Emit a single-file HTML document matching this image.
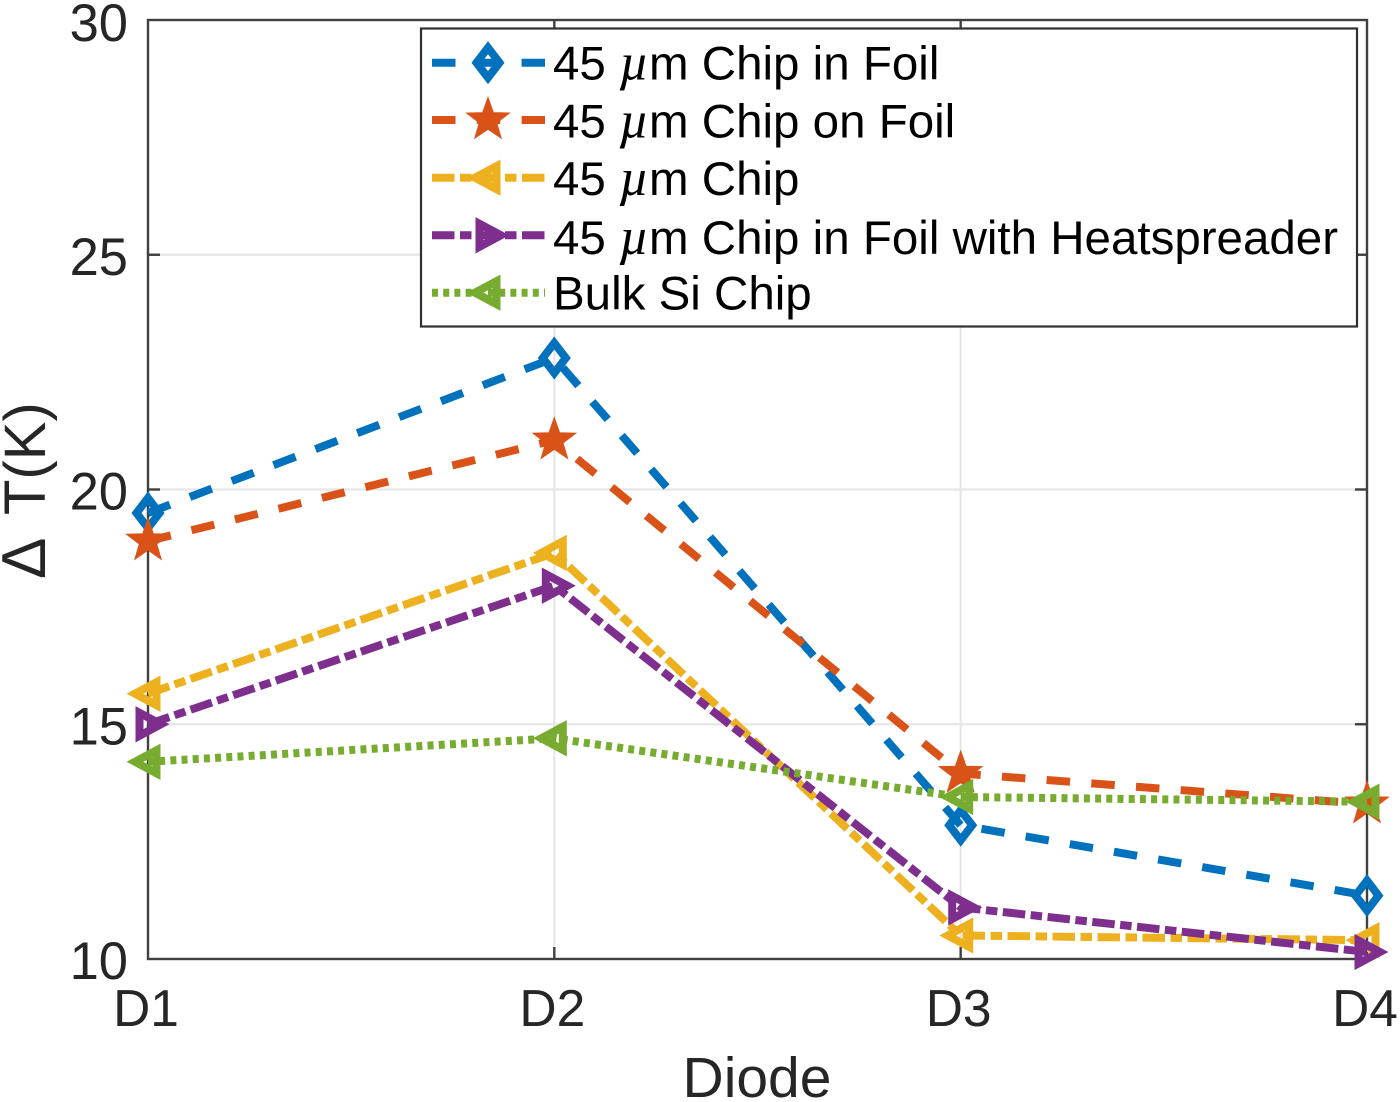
<!DOCTYPE html>
<html>
<head>
<meta charset="utf-8">
<style>
html,body{margin:0;padding:0;background:#fff;width:1400px;height:1102px;overflow:hidden}
svg{display:block}
text{font-family:"Liberation Sans",Arial,sans-serif}
</style>
</head>
<body>
<svg id="chart" xmlns="http://www.w3.org/2000/svg" width="1400" height="1102" viewBox="0 0 1400 1102">
<g id="grid"></g>
<g id="axes"></g>
<g id="series"></g>
<g id="legend"></g>
</svg>
<script>
const categories = ['D1', 'D2', 'D3', 'D4'];
const yTicks = [10, 15, 20, 25, 30];
const seriesNames = ['45 µm Chip in Foil', '45 µm Chip on Foil', '45 µm Chip', '45 µm Chip in Foil with Heatspreader', 'Bulk Si Chip'];
const chipInFoil = [19.5, 22.8, 12.85, 11.35];
const chipOnFoil = [18.9, 21.05, 13.95, 13.3];
const chipOnly = [15.65, 18.65, 10.5, 10.4];
const chipHeatspreader = [15.0, 17.95, 11.1, 10.15];
const bulkSi = [14.2, 14.7, 13.45, 13.35];

const NS = 'http://www.w3.org/2000/svg';
const plot = {l: 148, r: 1367, t: 20, b: 959};
const yMin = 10, yMax = 30;
function xScale(i) { return plot.l + (plot.r - plot.l) * i / (categories.length - 1); }
function yScale(v) { return plot.b - (plot.b - plot.t) * (v - yMin) / (yMax - yMin); }
function mk(tag, parent, attrs, txt) {
  const e = document.createElementNS(NS, tag);
  for (const k in attrs) e.setAttribute(k, attrs[k]);
  if (txt !== undefined) e.textContent = txt;
  parent.appendChild(e);
  return e;
}
function markerShape(kind, cx, cy, color, parent) {
  let pts, fill = 'none';
  if (kind === 'diamond') pts = [[0,-15],[11.5,0],[0,15],[-11.5,0]];
  if (kind === 'left') pts = [[-13,0],[8.5,-11.5],[8.5,11.5]];
  if (kind === 'right') pts = [[13,0],[-8.5,-11.5],[-8.5,11.5]];
  if (kind === 'star') {
    pts = [];
    for (let i = 0; i < 10; i++) {
      const r = i % 2 ? 8.5 : 21;
      const a = -Math.PI / 2 + i * Math.PI / 5;
      pts.push([r * Math.cos(a), r * Math.sin(a)]);
    }
    fill = color;
  }
  const m = mk('polygon', parent, {
    points: pts.map(p => (cx + p[0]).toFixed(1) + ',' + (cy + p[1]).toFixed(1)).join(' '),
    fill: fill, stroke: color, 'stroke-width': kind === 'star' ? 2 : 8, 'stroke-linejoin': 'miter', 'stroke-miterlimit': 10
  });
  
  
  return m;
}

const gridG = document.getElementById('grid');
const axesG = document.getElementById('axes');
const seriesG = document.getElementById('series');
const legendG = document.getElementById('legend');

/* grid */
yTicks.slice(1, -1).forEach(v => {
  const l = mk('line', gridG, {x1: plot.l, x2: plot.r, y1: yScale(v), y2: yScale(v), stroke: '#e6e6e6', 'stroke-width': 2.2});
  
  
});
categories.slice(1, -1).forEach((c, i) => {
  const x = xScale(i + 1);
  const l = mk('line', gridG, {x1: x, x2: x, y1: plot.t, y2: plot.b, stroke: '#e6e6e6', 'stroke-width': 2.2});
  
  
});

/* axes box and ticks */
const box = mk('rect', axesG, {x: plot.l, y: plot.t, width: plot.r - plot.l, height: plot.b - plot.t, fill: 'none', stroke: '#404040', 'stroke-width': 2.4});


yTicks.forEach(v => {
  const y = yScale(v);
  if (v !== yMin && v !== yMax) {
    const a = mk('line', axesG, {x1: plot.l, x2: plot.l + 12, y1: y, y2: y, stroke: '#404040', 'stroke-width': 2.4});
    
    
    const b = mk('line', axesG, {x1: plot.r - 12, x2: plot.r, y1: y, y2: y, stroke: '#404040', 'stroke-width': 2.4});
    
    
  }
  const t = mk('text', axesG, {x: 128, y: y + 20 + (v === yMax ? 1 : 0), 'text-anchor': 'end', 'font-size': 52.5, fill: '#262626'}, String(v));
  
  
});
categories.forEach((c, i) => {
  const x = xScale(i);
  if (i > 0 && i < categories.length - 1) {
    const a = mk('line', axesG, {x1: x, x2: x, y1: plot.b - 12, y2: plot.b, stroke: '#404040', 'stroke-width': 2.4});
    
    
    const b = mk('line', axesG, {x1: x, x2: x, y1: plot.t, y2: plot.t + 12, stroke: '#404040', 'stroke-width': 2.4});
    
    
  }
  const t = mk('text', axesG, {x: x - 2, y: 1026, 'text-anchor': 'middle', 'font-size': 51.5, fill: '#262626'}, c);
  
  
});
const xTitle = mk('text', axesG, {x: 757, y: 1097, 'text-anchor': 'middle', 'font-size': 57, fill: '#262626'}, 'Diode');


const yTitle = mk('text', axesG, {x: 0, y: 0, transform: 'translate(45,579) rotate(-90)', 'font-size': 58, fill: '#262626'});


mk('tspan', yTitle, {'font-size': 62}, 'Δ ');
mk('tspan', yTitle, {x: 64}, 'T(K)');

/* series */
const seriesValues = [chipInFoil, chipOnFoil, chipOnly, chipHeatspreader, bulkSi];
const colors = ['#0072bd', '#d95319', '#edb120', '#7e2f8e', '#77ac30'];
const dashes = ['23.5 21.3', '23.5 21.3', '22.5 5.5 11.5 5.5', '22.5 5.5 11.5 5.5', '6 5.2'];
const kinds = ['diamond', 'star', 'left', 'right', 'left'];
const slugs = ['chip-in-foil', 'chip-on-foil', 'chip', 'chip-in-foil-heatspreader', 'bulk-si-chip'];

seriesValues.forEach((vals, s) => {
  const g = mk('g', seriesG, {});
  
  
  const line = mk('polyline', g, {
    points: vals.map((v, i) => xScale(i) + ',' + yScale(v).toFixed(1)).join(' '),
    fill: 'none', stroke: colors[s], 'stroke-width': 8, 'stroke-dasharray': dashes[s], 'stroke-linejoin': 'miter'
  });
  
  
  vals.forEach((v, i) => markerShape(kinds[s], xScale(i), yScale(v), colors[s], g));
});

/* legend */
const lbox = mk('rect', legendG, {x: 421, y: 28.5, width: 936, height: 298, fill: '#fff', stroke: '#303030', 'stroke-width': 2.2});


const legendRowY = [62.7, 120, 177.7, 235.3, 292.7];
const legendBaseY = [79.5, 137.5, 195, 254, 309.5];
seriesNames.forEach((name, s) => {
  const y = legendRowY[s];
  const g = mk('g', legendG, {});
  
  
  const ln = mk('line', g, {x1: 432, x2: 545, y1: y, y2: y, stroke: colors[s], 'stroke-width': 8, 'stroke-dasharray': dashes[s]});
  
  
  const back = markerShape(kinds[s], 488, y, colors[s], g);
  
  const t = mk('text', g, {x: 553, y: legendBaseY[s], 'font-size': 47.5, fill: '#000'});
  
  
  const parts = name.split('µ');
  if (parts.length === 2) {
    mk('tspan', t, {}, parts[0]);
    mk('tspan', t, {'font-family': '"Liberation Serif", serif', 'font-style': 'italic', 'font-size': 52}, 'µ');
    mk('tspan', t, {}, parts[1]);
  } else {
    t.textContent = name;
  }
});
</script>
</body>
</html>
